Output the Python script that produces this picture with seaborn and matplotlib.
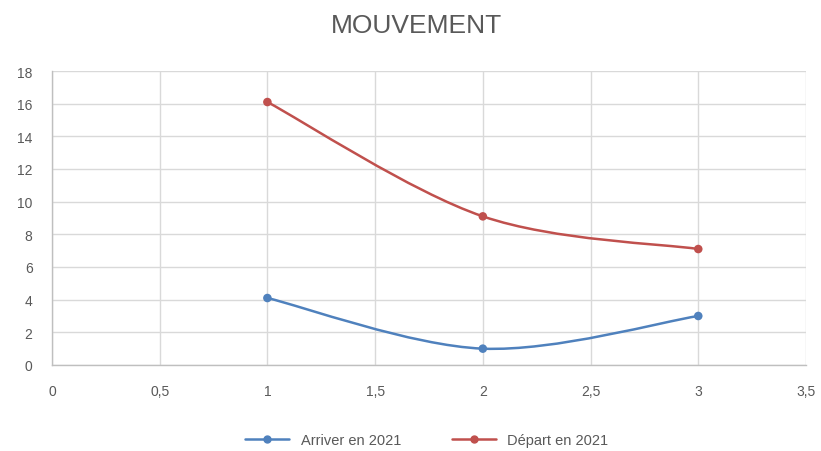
import numpy as np
import pandas as pd
import matplotlib
matplotlib.use("Agg")
import matplotlib.pyplot as plt
import seaborn as sns
from matplotlib.path import Path
from matplotlib.patches import PathPatch
from matplotlib.lines import Line2D
from matplotlib.ticker import MultipleLocator, FuncFormatter

# data
x_vals = [1, 2, 3]
arrivee = [4.1, 1.0, 3.0]
depart = [16.1, 9.1, 7.1]
series_names = ["Arriver en 2021", "Départ en 2021"]
colors = ["#4F81BD", "#C0504D"]
title = "MOUVEMENT"

df = pd.DataFrame({
    "x": x_vals * 2,
    "y": arrivee + depart,
    "serie": [series_names[0]] * 3 + [series_names[1]] * 3,
})


def smooth_path(xs, ys, tension=1 / 6):
    # Excel-style smoothed line: cubic bezier through the points
    pts = np.column_stack([xs, ys]).astype(float)
    verts = [pts[0]]
    codes = [Path.MOVETO]
    n = len(pts)
    for i in range(n - 1):
        p0 = pts[i - 1] if i > 0 else pts[i]
        p1, p2 = pts[i], pts[i + 1]
        p3 = pts[i + 2] if i + 2 < n else pts[i + 1]
        c1 = p1 + (p2 - p0) * tension
        c2 = p2 - (p3 - p1) * tension
        verts += [c1, c2, p2]
        codes += [Path.CURVE4] * 3
    return Path(verts, codes)


sns.set_theme(style="white")
plt.rcParams["font.family"] = ["Liberation Sans", "DejaVu Sans"]

fig = plt.figure(figsize=(8.21, 4.52), dpi=100)
ax = fig.add_axes([0.0633, 0.1903, 0.9184, 0.6504])

for name, col in zip(series_names, colors):
    sub = df[df["serie"] == name]
    ax.add_patch(PathPatch(smooth_path(sub["x"], sub["y"]), facecolor="none",
                           edgecolor=col, lw=1.8, zorder=3))
sns.scatterplot(data=df, x="x", y="y", hue="serie", palette=colors,
                s=38, edgecolor="none", legend=False, ax=ax, zorder=4)

ax.set_xlim(0, 3.5)
ax.set_ylim(0, 18)
ax.xaxis.set_major_locator(MultipleLocator(0.5))
ax.yaxis.set_major_locator(MultipleLocator(2))
fmt = FuncFormatter(lambda v, p: f"{v:g}".replace(".", ","))
ax.xaxis.set_major_formatter(fmt)
ax.yaxis.set_major_formatter(fmt)
ax.grid(True, color="#D9D9D9", lw=1.0)
ax.set_axisbelow(True)
for s in ["top", "right"]:
    ax.spines[s].set_visible(False)
for s in ["left", "bottom"]:
    ax.spines[s].set_color("#BFBFBF")
    ax.spines[s].set_linewidth(1.0)
ax.tick_params(axis="both", length=0, labelsize=10, colors="#595959")
ax.tick_params(axis="x", pad=14)
ax.tick_params(axis="y", pad=14)
ax.set_xlabel("")
ax.set_ylabel("")

fig.text(0.507, 0.943, title, ha="center", va="center", fontsize=19, color="#595959")

handles = [Line2D([0], [0], color=c, lw=1.8, marker="o", markersize=5) for c in colors]
fig.legend(handles, series_names, loc="center", bbox_to_anchor=(0.52, 0.025), ncol=2,
           frameon=False, fontsize=10.5, labelcolor="#595959", handlelength=3,
           columnspacing=3.5)

fig.savefig("out.png", dpi=100)
